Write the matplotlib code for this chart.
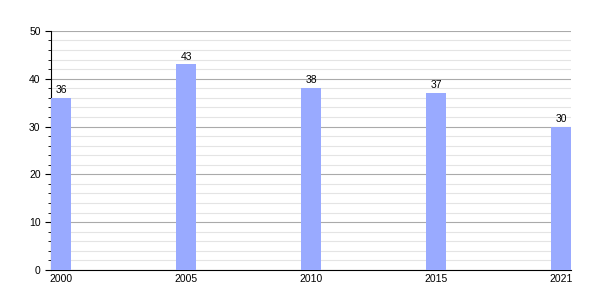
import numpy as np
import matplotlib.pyplot as plt
from matplotlib.ticker import MultipleLocator

years = ['2000', '2005', '2010', '2015', '2021']
values = [36, 43, 38, 37, 30]

plt.rcParams['font.family'] = ['Liberation Sans', 'DejaVu Sans']

fig = plt.figure(figsize=(6, 3), dpi=100)
ax = fig.add_axes([0.085, 0.1, 0.867, 0.797])

w = 0.16
x = np.arange(len(years))
ax.bar(x, values, width=w, align='edge', color='#99aaff', zorder=3)
for xi, v in zip(x, values):
    ax.text(xi + w / 2, v + 0.6, str(v), ha='center', va='bottom', fontsize=7.5)

ax.set_xlim(0, x[-1] + w)
ax.set_ylim(0, 50)
ax.set_xticks(x + w / 2)
ax.set_xticklabels(years)
ax.yaxis.set_major_locator(MultipleLocator(10))
ax.yaxis.set_minor_locator(MultipleLocator(2))
ax.grid(axis='y', which='major', color='#aaaaaa', linewidth=0.8, zorder=0)
ax.grid(axis='y', which='minor', color='#e4e4e4', linewidth=0.8, zorder=0)
ax.tick_params(axis='x', length=0, labelsize=7.5, pad=3)
ax.tick_params(axis='y', which='major', length=4, labelsize=7.5)
ax.tick_params(axis='y', which='minor', length=2)
for s in ['top', 'right']:
    ax.spines[s].set_visible(False)
ax.spines['left'].set_linewidth(0.8)
ax.spines['bottom'].set_linewidth(0.8)

fig.savefig('out.png', dpi=100)
